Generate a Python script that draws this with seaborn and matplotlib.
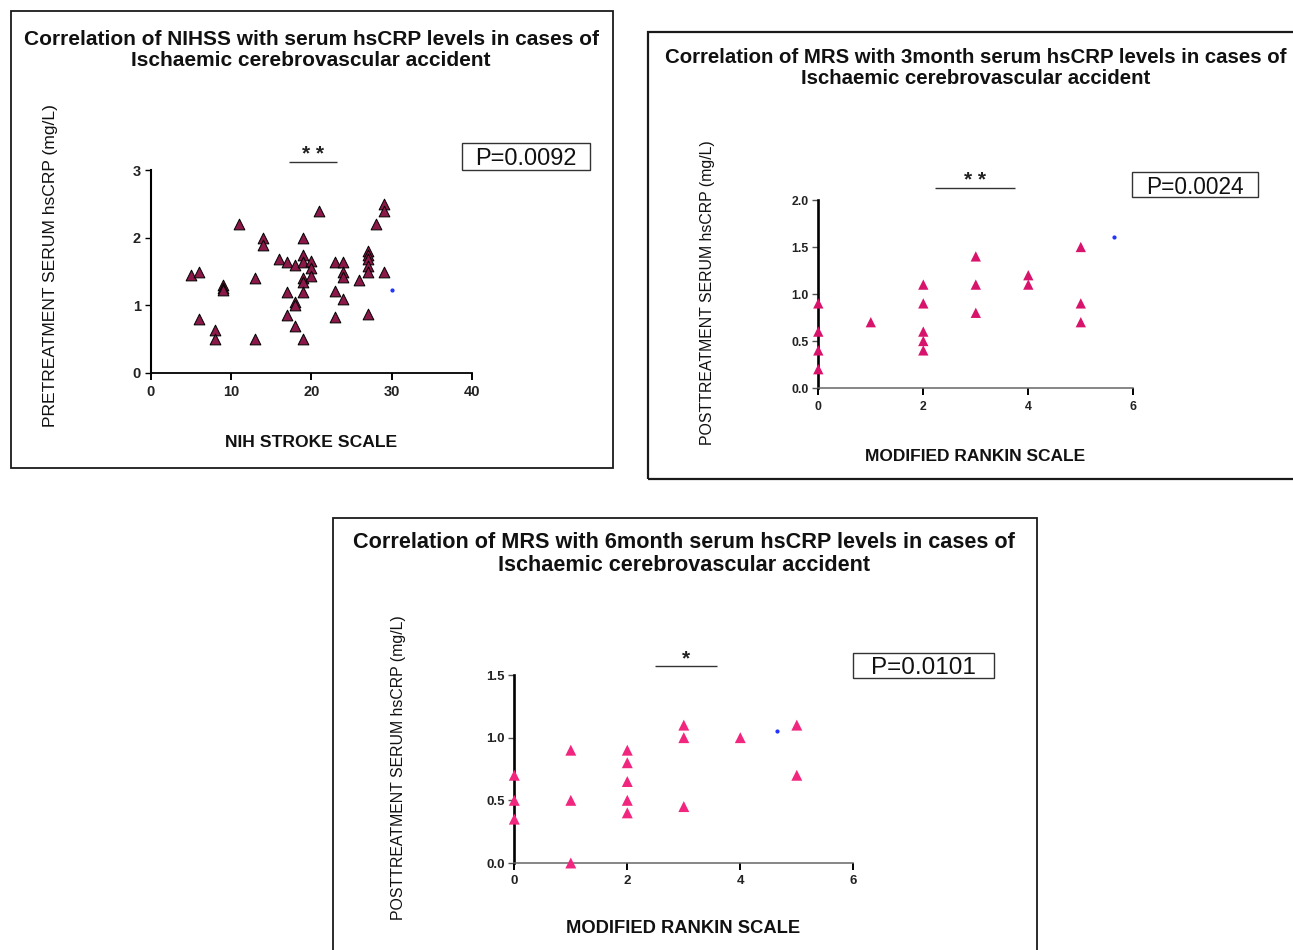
"""Three hsCRP correlation scatter panels (NIHSS, MRS 3 month, MRS 6 month)."""

import matplotlib
matplotlib.use("Agg")
import matplotlib.pyplot as plt
from matplotlib.patches import Rectangle
import pandas as pd
import seaborn as sns

# --- data --------------------------------------------------------------
nihss = [5, 6, 6, 8, 8, 9, 9, 9, 11, 13, 13, 14, 14, 16, 17, 17, 17,
         18, 18, 18, 18, 19, 19, 19, 19, 19, 19, 19, 20, 20, 20, 21,
         23, 23, 23, 24, 24, 24, 24, 26, 27, 27, 27, 27, 27, 27, 28,
         29, 29, 29]
crp_pre = [1.45, 1.5, 0.8, 0.64, 0.5, 1.3, 1.25, 1.22, 2.2, 1.4, 0.5,
           2.0, 1.89, 1.68, 1.64, 1.2, 0.86, 1.6, 1.05, 1.0, 0.7,
           2.0, 1.75, 1.64, 1.4, 1.35, 1.2, 0.5, 1.65, 1.55, 1.43, 2.4,
           1.64, 1.21, 0.83, 1.64, 1.5, 1.42, 1.1, 1.37,
           1.8, 1.74, 1.68, 1.58, 1.49, 0.87, 2.2, 2.5, 2.4, 1.5]
dot_pre = ([30], [1.23])

mrs_3m = [0, 0, 0, 0, 1, 2, 2, 2, 2, 2, 3, 3, 3, 4, 4, 5, 5, 5]
crp_3m = [0.9, 0.6, 0.4, 0.2, 0.7, 1.1, 0.9, 0.6, 0.5, 0.4,
          1.4, 1.1, 0.8, 1.2, 1.1, 1.5, 0.9, 0.7]
dot_3m = ([5.63], [1.61])

mrs_6m = [0, 0, 0, 1, 1, 1, 2, 2, 2, 2, 2, 3, 3, 3, 4, 5, 5]
crp_6m = [0.7, 0.5, 0.35, 0.9, 0.5, 0.0, 0.9, 0.8, 0.65, 0.5, 0.4,
          1.1, 1.0, 0.45, 1.0, 1.1, 0.7]
dot_6m = ([4.65], [1.05])

titles = [
    "Correlation of NIHSS with serum hsCRP levels in cases of\nIschaemic cerebrovascular accident",
    "Correlation of MRS with 3month serum hsCRP levels in cases of\nIschaemic cerebrovascular accident",
    "Correlation of MRS with 6month serum hsCRP levels in cases of\nIschaemic cerebrovascular accident",
]
xlabels = ["NIH STROKE SCALE", "MODIFIED RANKIN SCALE", "MODIFIED RANKIN SCALE"]
ylabels = ["PRETREATMENT SERUM hsCRP (mg/L)",
           "POSTTREATMENT SERUM hsCRP (mg/L)",
           "POSTTREATMENT SERUM hsCRP (mg/L)"]
p_values = ["P=0.0092", "P=0.0024", "P=0.0101"]
stars = ["* *", "* *", "*"]

W, H = 1293, 950


def fx(x):
    return x / W


def fy(y):
    return 1 - y / H


def axes_rect(x0, x1, y0, y1):
    # pixel box (left, right, bottom, top) -> figure fraction
    return [fx(x0), fy(y0), (x1 - x0) / W, (y0 - y1) / H]


def frame(l, t, r, b, lw, ec="#1a1a1a"):
    fig.patches.append(Rectangle((fx(l), fy(b)), (r - l) / W, (b - t) / H,
                                 transform=fig.transFigure, fill=False,
                                 ec=ec, lw=lw, zorder=3))


sns.set_theme(style="ticks")
plt.rcParams["font.family"] = ["Liberation Sans", "DejaVu Sans"]

fig = plt.figure(figsize=(W / 100, H / 100), dpi=100)
fig.patch.set_facecolor("white")

# panel frames
frame(11, 11, 613, 468, 1.3)
frame(648, 32, 1300, 479, 1.6)
frame(333, 518, 1037, 960, 1.3)

panels = [
    dict(x=nihss, y=crp_pre, dot=dot_pre, rect=axes_rect(150.5, 472, 373, 170),
         xlim=(0, 40), ylim=(0, 3), xt=[0, 10, 20, 30, 40], yt=[0, 1, 2, 3],
         yfmt="{:.0f}", color="#8a1848", ec="black", s=60, tick_fs=10.5,
         title_xy=(311, 50), title_fs=15, lab_fs=(12.6, 12.6),
         ylab=(-0.31, 0.53), xlab=(0.5, -0.34),
         bar=(17.2, 23.2, 3.12), p_box=(462, 143, 590, 170), p_fs=17,
         xspine="black"),
    dict(x=mrs_3m, y=crp_3m, dot=dot_3m, rect=axes_rect(818.3, 1133.3, 388, 200),
         xlim=(0, 6), ylim=(0, 2), xt=[0, 2, 4, 6], yt=[0, 0.5, 1.0, 1.5, 2.0],
         yfmt="{:.1f}", color="#d8136c", ec="none", s=55, tick_fs=8.8,
         title_xy=(975.5, 68), title_fs=14.7, lab_fs=(11.4, 12.5),
         ylab=(-0.353, 0.505), xlab=(0.498, -0.362),
         bar=(2.22, 3.75, 2.13), p_box=(1132, 172, 1258, 197), p_fs=16.3,
         xspine="#666666"),
    dict(x=mrs_6m, y=crp_6m, dot=dot_6m, rect=axes_rect(514.3, 853.3, 863, 675),
         xlim=(0, 6), ylim=(0, 1.5), xt=[0, 2, 4, 6], yt=[0, 0.5, 1.0, 1.5],
         yfmt="{:.1f}", color="#f0267f", ec="none", s=62, tick_fs=9.5,
         title_xy=(684, 554), title_fs=15.6, lab_fs=(11.4, 13.2),
         ylab=(-0.343, 0.505), xlab=(0.497, -0.351),
         bar=(2.49, 3.59, 1.57), p_box=(853, 653, 994, 678), p_fs=17.5,
         xspine="#666666"),
]

for i, p in enumerate(panels):
    ax = fig.add_axes(p["rect"])
    ax.set_facecolor("white")
    df = pd.DataFrame({"x": p["x"], "y": p["y"]})
    sns.scatterplot(data=df, x="x", y="y", ax=ax, marker="^", s=p["s"],
                    color=p["color"], edgecolor=p["ec"], linewidth=0.7,
                    clip_on=False, zorder=5, legend=False)
    ax.scatter(p["dot"][0], p["dot"][1], s=4, color="#2233ff", zorder=5,
               clip_on=False)

    ax.set_xlim(*p["xlim"])
    ax.set_ylim(*p["ylim"])
    ax.set_xticks(p["xt"])
    ax.set_yticks(p["yt"])
    ax.set_yticklabels([p["yfmt"].format(v) for v in p["yt"]])
    sns.despine(ax=ax)
    ax.spines["left"].set_color("black")
    ax.spines["left"].set_linewidth(1.5 if i == 0 else 1.9)
    ax.spines["bottom"].set_color(p["xspine"])
    ax.spines["bottom"].set_linewidth(1.3 if i == 0 else 1.1)
    ax.tick_params(axis="x", direction="out", length=5, width=1.4,
                   color="black", labelsize=p["tick_fs"], pad=4)
    ax.tick_params(axis="y", direction="out", length=4, width=1.0,
                   color="#555555" if i else "black",
                   labelsize=p["tick_fs"], pad=3)
    for lab in ax.get_xticklabels() + ax.get_yticklabels():
        lab.set_fontweight("bold")
        lab.set_color("#222222")

    ax.set_ylabel(ylabels[i], fontsize=p["lab_fs"][0], va="center",
                  color="#111111")
    ax.yaxis.set_label_coords(*p["ylab"])
    ax.set_xlabel(xlabels[i], fontsize=p["lab_fs"][1], fontweight="bold",
                  va="center", color="#111111")
    ax.xaxis.set_label_coords(*p["xlab"])

    # significance bar with stars above it
    x0, x1, yb = p["bar"]
    ax.hlines(yb, x0, x1, color="#333333", lw=1.0, clip_on=False)
    ax.annotate(stars[i], xy=((x0 + x1) / 2, yb), xytext=(0, 5),
                textcoords="offset points", ha="center", va="center",
                fontsize=15, fontweight="bold", color="#222222",
                annotation_clip=False)

    fig.text(fx(p["title_xy"][0]), fy(p["title_xy"][1]), titles[i],
             ha="center", va="center", fontsize=p["title_fs"],
             fontweight="bold", linespacing=1.12, color="#111111")

    # P value in a plain box
    l, t, r, b = p["p_box"]
    frame(l, t, r, b, 1.0, ec="#333333")
    fig.text(fx((l + r) / 2), fy((t + b) / 2), p_values[i],
             ha="center", va="center_baseline", fontsize=p["p_fs"],
             color="#111111")

fig.savefig("out.png", dpi=100, facecolor="white")
